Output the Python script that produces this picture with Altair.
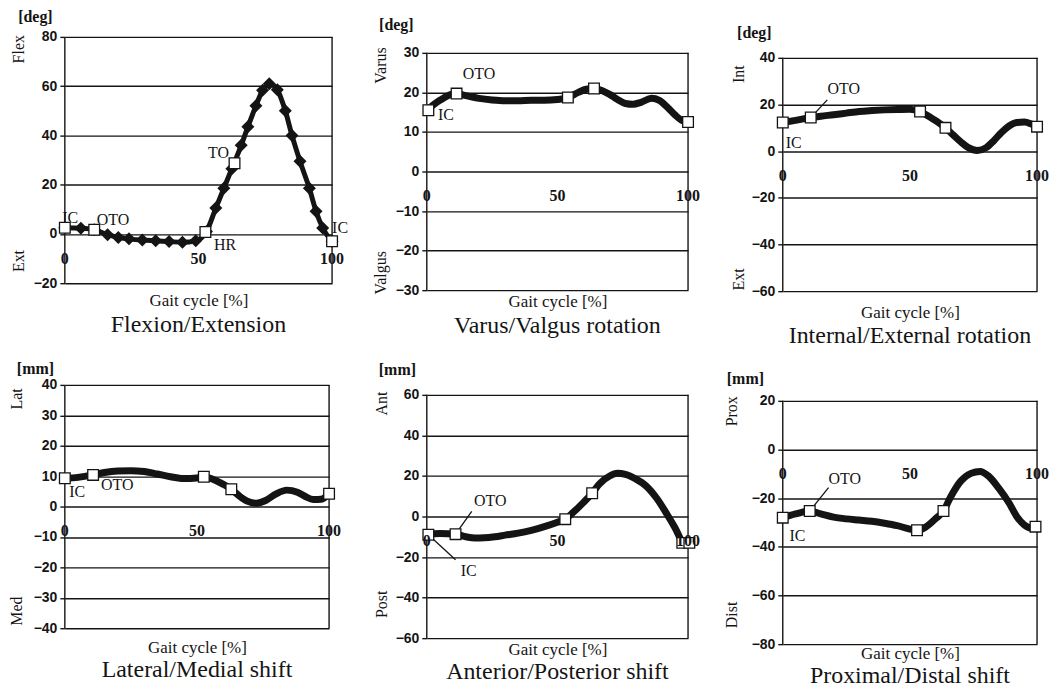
import altair as alt
import pandas as pd

SERIF = "Liberation Serif"
SANS = "Liberation Sans"
INK = "#141414"

GAIT_TICKS = [0, 50, 100]
GAIT_TICK_LABELS = ["0", "50", "100"]

# ---------- Flexion / Extension ----------
FE_X = [0, 6, 11, 16, 20, 24, 29, 34, 39, 44, 49, 53, 56.5, 59.5, 62.5, 66, 68.5, 71.5, 74, 76.5, 79.5, 82.5, 85, 88, 91.5, 94, 96.5, 100]
FE_Y = [2.5, 2.3, 1.7, -0.3, -1.4, -2.0, -2.5, -2.8, -3.1, -3.4, -2.8, 1.0, 10.5, 18.5, 26.5, 36, 43.5, 52, 58.3, 61, 58.5, 50, 40, 29.5, 18.5, 9.2, 2.4, -3]
FE_EVT_X = [0, 11, 52.6, 63.5, 100]
FE_EVT_Y = [2.5, 1.7, 0.8, 28.7, -3]
FE_LBL = ["IC", "OTO", "HR", "TO", "IC"]
FE_LBL_X = [2, 18, 60, 57.5, 103]
FE_LBL_Y = [6.5, 5.8, -4.3, 32.8, 2.4]
FE_YTICKS = [-20, 0, 20, 40, 60, 80]
FE_SIDE = ["Flex", "Ext"]
FE_SIDE_Y = [75, -11]

# ---------- Varus / Valgus ----------
VV_X = [0, 5, 11, 15, 20, 25, 30, 35, 40, 45, 50, 54, 58, 61, 64, 67, 70, 73, 76, 79, 82, 86, 89, 92, 95, 98, 100]
VV_Y = [15.5, 18, 19.7, 19.2, 18.5, 18.1, 17.9, 17.9, 18, 18, 18.2, 18.7, 20, 20.8, 21, 20.5, 19.5, 18.2, 17.2, 17, 17.5, 18.5, 18, 16.3, 14.3, 12.8, 12.5]
VV_EVT_X = [0.6, 11.4, 54, 64, 100]
VV_EVT_Y = [15.5, 19.7, 18.7, 21, 12.5]
VV_LBL = ["OTO", "IC"]
VV_LBL_X = [20, 7.3]
VV_LBL_Y = [24.6, 14.4]
VV_YTICKS = [-30, -20, -10, 0, 10, 20, 30]
VV_SIDE = ["Varus", "Valgus"]
VV_SIDE_Y = [26.8, -25.6]

# ---------- Internal / External ----------
IE_X = [0, 5, 11, 15, 20, 25, 30, 35, 40, 45, 50, 54, 58, 61, 64, 67, 70, 73, 76.5, 80, 83, 86, 89, 92, 95, 98, 100]
IE_Y = [12.3, 13.2, 14.4, 15, 15.6, 16.3, 17, 17.4, 17.7, 17.9, 18, 17, 14.5, 12.5, 10, 7, 4, 1.5, 0.3, 1.5, 4.5, 8, 10.8, 12.3, 12.5, 11.5, 10.5]
IE_EVT_X = [0, 11, 54, 64, 100]
IE_EVT_Y = [12.3, 14.4, 17, 10, 10.5]
IE_LBL = ["OTO", "IC"]
IE_LBL_X = [24, 4.3]
IE_LBL_Y = [26.5, 3.3]
IE_LEAD_X = [11]
IE_LEAD_Y = [14.4]
IE_LEAD_X2 = [17.5]
IE_LEAD_Y2 = [22]
IE_YTICKS = [-60, -40, -20, 0, 20, 40]
IE_SIDE = ["Int", "Ext"]
IE_SIDE_Y = [33, -55]

# ---------- Lateral / Medial ----------
LM_X = [0, 5, 10.7, 15, 20, 25, 30, 35, 40, 45, 50, 52.6, 56, 60, 63, 66, 69, 72.5, 76, 80, 84, 88, 91, 94, 97, 100]
LM_Y = [9.3, 9.6, 10.4, 11.2, 11.7, 11.8, 11.5, 10.7, 9.8, 9.2, 9.4, 9.8, 9, 7.3, 5.7, 3.5, 1.8, 1.1, 2, 4.2, 5.4, 4.7, 3.3, 2.3, 2.4, 4.2]
LM_EVT_X = [0, 10.7, 52.6, 63, 100]
LM_EVT_Y = [9.3, 10.4, 9.8, 5.7, 4.2]
LM_LBL = ["IC", "OTO"]
LM_LBL_X = [4.7, 19.8]
LM_LBL_Y = [4.9, 7.1]
LM_YTICKS = [-40, -30, -20, -10, 0, 10, 20, 30, 40]
LM_SIDE = ["Lat", "Med"]
LM_SIDE_Y = [35.4, -34.4]

# ---------- Anterior / Posterior ----------
AP_X = [0, 5, 11, 15, 18.5, 22, 26, 30, 35, 40, 45, 50, 53, 56, 60, 63.3, 66, 70, 73, 76, 80, 84, 88, 92, 95, 98, 100]
AP_Y = [-9, -8.4, -8.7, -10, -10.6, -10.5, -10, -9.2, -8.2, -6.8, -5, -2.8, -1.3, 2, 7, 11.5, 16, 20, 21.3, 20.8, 18.5, 15, 9, 1, -5.5, -12.5, -13.3]
AP_EVT_X = [0.6, 11, 53, 63.3, 97.8, 100.5]
AP_EVT_Y = [-9, -8.7, -1.3, 11.5, -13, -13]
AP_LBL = ["OTO", "IC"]
AP_LBL_X = [24.3, 16]
AP_LBL_Y = [7.4, -27]
AP_LEAD_X = [11, 0.6]
AP_LEAD_Y = [-8.7, -9]
AP_LEAD_X2 = [17.2, 11]
AP_LEAD_Y2 = [2.5, -21.3]
AP_YTICKS = [-60, -40, -20, 0, 20, 40, 60]
AP_SIDE = ["Ant", "Post"]
AP_SIDE_Y = [55.7, -43.3]

# ---------- Proximal / Distal ----------
PD_X = [0, 5, 10.6, 15, 20, 25, 30, 35, 40, 45, 50, 52.8, 56, 60, 63.2, 66, 70, 74, 77.6, 81, 85, 89, 92, 95, 98, 100]
PD_Y = [-28, -26.5, -25.3, -26.5, -27.8, -28.5, -29, -29.5, -30.3, -31.3, -32.7, -33.2, -32, -28.5, -25.3, -19.5, -13, -9.8, -9, -11, -16, -22, -27.5, -31, -32.3, -32]
PD_EVT_X = [0, 10.6, 52.8, 63.2, 99.4]
PD_EVT_Y = [-28, -25.3, -33.2, -25.3, -31.7]
PD_LBL = ["OTO", "IC"]
PD_LBL_X = [24.4, 5.8]
PD_LBL_Y = [-12.3, -35.5]
PD_LEAD_X = [10.6]
PD_LEAD_Y = [-25.3]
PD_LEAD_X2 = [18]
PD_LEAD_Y2 = [-15.7]
PD_YTICKS = [-80, -60, -40, -20, 0, 20]
PD_SIDE = ["Prox", "Dist"]
PD_SIDE_Y = [15.7, -68]


def panel(title, unit, xs, ys, evx, evy, lbl, lblx, lbly, yticks, side, sidey,
          width, height, rng, side_x, unit_pos, xt_pad, t_off, lead=None, diamonds=False):
    ymin, ymax = min(yticks), max(yticks)
    yscale = alt.Scale(domain=[ymin, ymax], range=rng, nice=False, zero=False)
    xscale = alt.Scale(domain=[0, 100], nice=False, zero=False)
    yaxis = alt.Axis(
        values=yticks, grid=True, gridColor=INK, gridWidth=1.4, domain=False,
        ticks=True, tickSize=5, tickColor=INK, tickWidth=1.4,
        labelFont=SANS, labelFontWeight="bold", labelFontSize=14, labelColor=INK,
        labelPadding=3, title=unit, titleAngle=0, titleX=unit_pos[0], titleY=unit_pos[1],
        titleFont=SERIF, titleFontSize=16, titleFontWeight="bold", titleColor=INK,
        titleAlign="center", titleBaseline="middle",
    )
    xaxis = alt.Axis(
        labels=False, ticks=False, domain=False, grid=False,
        title="Gait cycle [%]", titleFont=SERIF, titleFontSize=17,
        titleFontWeight="normal", titleColor=INK, titlePadding=xt_pad,
        offset=-(height - rng[0]),
    )
    X = lambda f="x": alt.X(f, type="quantitative", scale=xscale, axis=xaxis)
    Y = lambda f="y": alt.Y(f, type="quantitative", scale=yscale, axis=yaxis)

    frame = alt.Chart(pd.DataFrame({"x": [0, 100], "y": [ymin, ymin], "y2": [ymax, ymax]})).mark_rule(
        color=INK, strokeWidth=1.4).encode(x=X(), y=Y(), y2="y2")

    curve = pd.DataFrame({"x": xs, "y": ys})
    line = alt.Chart(curve).mark_line(color=INK, strokeWidth=5 if diamonds else 7,
                                      interpolate="monotone").encode(x=X(), y=Y())
    layers = [frame, line]
    if diamonds:
        layers.append(alt.Chart(curve).mark_point(shape="diamond", filled=True, color=INK,
                                                  size=170, opacity=1).encode(x=X(), y=Y()))
    if lead:
        lx, ly, lx2, ly2 = lead
        layers.append(alt.Chart(pd.DataFrame({"x": lx, "y": ly, "x2": lx2, "y2": ly2})).mark_rule(
            color=INK, strokeWidth=1.3).encode(x=X(), y=Y(), x2="x2", y2="y2"))
    layers.append(alt.Chart(pd.DataFrame({"x": evx, "y": evy})).mark_point(
        shape="square", filled=True, fill="white", stroke=INK, strokeWidth=1.3,
        size=115, opacity=1).encode(x=X(), y=Y()))
    layers.append(alt.Chart(pd.DataFrame({"x": lblx, "y": lbly, "t": lbl})).mark_text(
        font=SERIF, fontSize=16, color=INK).encode(x=X(), y=Y(), text="t:N"))
    layers.append(alt.Chart(pd.DataFrame({"x": GAIT_TICKS, "y": [0, 0, 0], "t": GAIT_TICK_LABELS})).mark_text(
        font=SERIF, fontSize=16, fontWeight="bold", color=INK, dy=25).encode(x=X(), y=Y(), text="t:N"))
    layers.append(alt.Chart(pd.DataFrame({"y": sidey, "t": side})).mark_text(
        font=SERIF, fontSize=16, color=INK, angle=270).encode(x=alt.value(side_x), y=Y(), text="t:N"))

    return alt.layer(*layers).properties(
        width=width, height=height,
        title=alt.TitleParams(title, orient="bottom", font=SERIF, fontSize=24,
                              fontWeight="normal", color=INK, offset=t_off),
    )


p1 = panel("Flexion/Extension", "[deg]", FE_X, FE_Y, FE_EVT_X, FE_EVT_Y, FE_LBL, FE_LBL_X, FE_LBL_Y,
           FE_YTICKS, FE_SIDE, FE_SIDE_Y, 268, 255, [247, 0], -46, (-30, -20), 9, 5, diamonds=True)
p2 = panel("Varus/Valgus rotation", "[deg]", VV_X, VV_Y, VV_EVT_X, VV_EVT_Y, VV_LBL, VV_LBL_X, VV_LBL_Y,
           VV_YTICKS, VV_SIDE, VV_SIDE_Y, 262, 255, [254, 16], -46, (-31, -12), 3, 5)
p3 = panel("Internal/External rotation", "[deg]", IE_X, IE_Y, IE_EVT_X, IE_EVT_Y, IE_LBL, IE_LBL_X, IE_LBL_Y,
           IE_YTICKS, IE_SIDE, IE_SIDE_Y, 255, 255, [255, 21], -44, (-29, -4), 13, 4,
           lead=(IE_LEAD_X, IE_LEAD_Y, IE_LEAD_X2, IE_LEAD_Y2))
p4 = panel("Lateral/Medial shift", "[mm]", LM_X, LM_Y, LM_EVT_X, LM_EVT_Y, LM_LBL, LM_LBL_X, LM_LBL_Y,
           LM_YTICKS, LM_SIDE, LM_SIDE_Y, 265, 260, [244, 0], -48, (-30, -16), 11, 3)
p5 = panel("Anterior/Posterior shift", "[mm]", AP_X, AP_Y, AP_EVT_X, AP_EVT_Y, AP_LBL, AP_LBL_X, AP_LBL_Y,
           AP_YTICKS, AP_SIDE, AP_SIDE_Y, 262, 260, [254, 10], -45, (-30, -15), 3, 3,
           lead=(AP_LEAD_X, AP_LEAD_Y, AP_LEAD_X2, AP_LEAD_Y2))
p6 = panel("Proximal/Distal shift", "[mm]", PD_X, PD_Y, PD_EVT_X, PD_EVT_Y, PD_LBL, PD_LBL_X, PD_LBL_Y,
           PD_YTICKS, PD_SIDE, PD_SIDE_Y, 255, 260, [260, 16], -51, (-38, -6), 1, 3,
           lead=(PD_LEAD_X, PD_LEAD_Y, PD_LEAD_X2, PD_LEAD_Y2))

chart = alt.concat(p1, p2, p3, p4, p5, p6, columns=3,
                   spacing={"row": 94, "column": 95}, bounds="flush").properties(
    padding={"left": 0, "top": 0, "right": 0, "bottom": 0},
    background="white",
).configure_view(stroke=None)

chart.save("out.html", embed_options={"renderer": "svg", "actions": False})
